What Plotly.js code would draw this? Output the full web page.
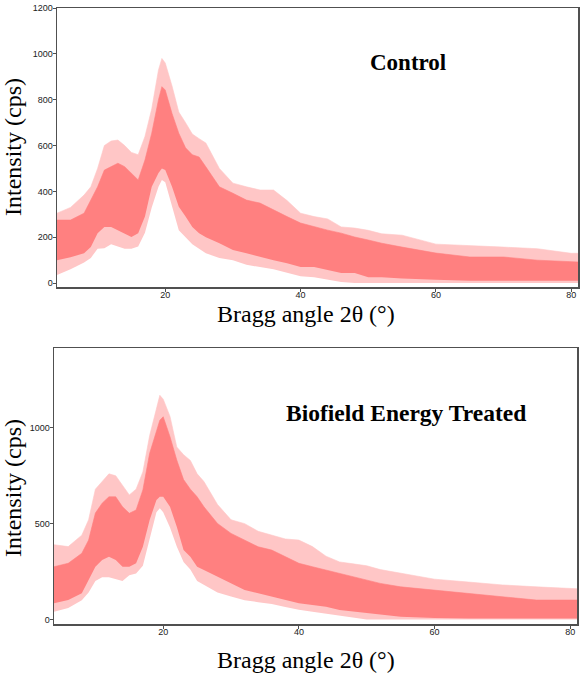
<!DOCTYPE html>
<html>
<head>
<meta charset="utf-8">
<script src="https://cdn.plot.ly/plotly-3.0.1.min.js"></script>
<style>html,body{margin:0;padding:0;background:#fff}#chart{width:583px;height:673px}</style>
</head>
<body>
<div id="chart"></div>
<script>
// ---- Control sample (2θ in degrees, intensity in cps) ----
const ctrlAngle = [4,6,8,9,10,11,12,13,14,15,16,17,18,19,19.5,20,21,22,23,24,25,26,28,30,32,34,36,38,40,42,44,46,48,50,52,55,60,65,70,75,80,81];
const ctrlCoreHi = [275,275,305,362,420,493,508,523,508,480,450,537,654,800,857,842,740,654,590,560,550,507,420,392,362,349,318,290,262,245,231,218,201,188,174,157,131,114,114,100,92,92];
const ctrlCoreLo = [100,113,130,157,218,245,245,231,218,201,218,290,420,480,500,493,420,333,290,245,218,200,174,144,130,114,100,87,70,70,57,44,44,26,26,20,15,10,10,10,10,10];
const ctrlSpikeHi = [305,330,384,420,500,600,620,624,600,570,560,640,760,930,980,960,860,746,700,650,630,611,500,436,420,406,406,360,305,290,280,245,240,230,215,209,170,165,157,150,130,130];
const ctrlSpikeLo = [35,60,90,110,150,152,170,160,150,150,160,220,330,420,450,440,340,231,200,170,150,130,110,100,80,70,60,45,30,25,15,5,0,0,0,0,0,0,0,0,0,0];

// ---- Biofield Energy Treated sample ----
const trtAngle = [3.9,6,8,9,10,11,12,13,14,15,16,17,18,19,19.5,20,21,22,23,24,25,26,28,30,32,34,36,38,40,42,44,46,48,50,52,55,60,65,70,75,80,81];
const trtCoreHi = [275,293,345,414,555,607,640,640,588,554,571,676,867,989,1040,1058,954,832,730,680,640,588,501,449,414,379,362,327,293,275,258,240,223,205,188,170,153,136,118,101,101,101];
const trtCoreLo = [84,101,136,205,275,310,327,310,275,275,293,379,519,623,640,640,588,484,362,327,275,258,223,188,153,136,118,101,84,75,66,49,40,31,25,14,7,5,5,5,5,5];
const trtSpikeHi = [390,380,440,520,680,720,760,750,700,650,680,770,960,1100,1170,1150,1060,900,860,830,760,720,600,520,500,460,440,420,414,380,330,300,290,280,260,240,210,195,180,170,160,160];
const trtSpikeLo = [40,60,100,140,200,220,220,210,200,230,240,280,420,560,580,560,480,380,300,260,200,180,140,120,100,90,80,65,50,40,30,20,10,0,0,0,0,0,0,0,0,0];

// tick labels
const ctrlYTicks = [0,200,400,600,800,1000,1200];
const trtYTicks = [0,500,1000];
const xTicks = [20,40,60,80];

const core = '#FF8080';
const spike = '#FFC6C6';

function band(x, lo, hi, color, xa, ya) {
  return [
    {x: x, y: lo, xaxis: xa, yaxis: ya, mode: 'lines', line: {width: 0, color: color}, hoverinfo: 'skip', showlegend: false},
    {x: x, y: hi, xaxis: xa, yaxis: ya, mode: 'lines', fill: 'tonexty', fillcolor: color, line: {width: 0.6, color: color}, hoverinfo: 'skip', showlegend: false}
  ];
}

const data = [].concat(
  band(ctrlAngle, ctrlSpikeLo, ctrlSpikeHi, spike, 'x', 'y'),
  band(ctrlAngle, ctrlCoreLo, ctrlCoreHi, core, 'x', 'y'),
  band(trtAngle, trtSpikeLo, trtSpikeHi, spike, 'x2', 'y2'),
  band(trtAngle, trtCoreLo, trtCoreHi, core, 'x2', 'y2')
);

const W = 583, H = 673;
const tickFont = {family: 'Liberation Sans, Arial, sans-serif', size: 9, color: '#222'};
function ax(extra) {
  return Object.assign({
    showline: true, mirror: true, linecolor: '#505050', linewidth: 1.5,
    showgrid: false, zeroline: false, ticks: 'outside', ticklen: 3, tickwidth: 1, tickcolor: '#505050',
    tickfont: tickFont, fixedrange: true
  }, extra);
}

const serif = 'Liberation Serif, Times New Roman, serif';
const layout = {
  width: W, height: H,
  margin: {l: 0, r: 0, t: 0, b: 0},
  paper_bgcolor: '#fff', plot_bgcolor: '#fff',
  showlegend: false,
  xaxis: ax({domain: [57/W, 578/W], range: [4, 81], anchor: 'y', tickvals: xTicks, ticklabelstandoff: -4}),
  yaxis: ax({domain: [1 - 287/H, 1 - 8/H], range: [-17, 1200], anchor: 'x', tickvals: ctrlYTicks, ticklabelstandoff: -2}),
  xaxis2: ax({domain: [54/W, 577/W], range: [3.9, 81], anchor: 'y2', tickvals: xTicks, ticklabelstandoff: -4}),
  yaxis2: ax({domain: [1 - 624/H, 1 - 348/H], range: [-24, 1417], anchor: 'x2', tickvals: trtYTicks, ticklabelstandoff: -2}),
  annotations: [
    {text: 'Intensity (cps)', xref: 'paper', yref: 'paper', x: 13/W, y: 1 - 147/H, textangle: -90, showarrow: false, xanchor: 'center', yanchor: 'middle', font: {family: serif, size: 24, color: '#000'}},
    {text: 'Intensity (cps)', xref: 'paper', yref: 'paper', x: 13/W, y: 1 - 488/H, textangle: -90, showarrow: false, xanchor: 'center', yanchor: 'middle', font: {family: serif, size: 24, color: '#000'}},
    {text: 'Bragg angle 2θ (°)', xref: 'paper', yref: 'paper', x: 306/W, y: 1 - 300/H, showarrow: false, xanchor: 'center', yanchor: 'top', borderpad: 0, font: {family: serif, size: 24, color: '#000'}},
    {text: 'Bragg angle 2θ (°)', xref: 'paper', yref: 'paper', x: 306/W, y: 1 - 646/H, showarrow: false, xanchor: 'center', yanchor: 'top', borderpad: 0, font: {family: serif, size: 24, color: '#000'}},
    {text: '<b>Control</b>', xref: 'paper', yref: 'paper', x: 408/W, y: 1 - 62/H, showarrow: false, xanchor: 'center', yanchor: 'middle', font: {family: serif, size: 23, color: '#000'}},
    {text: '<b>Biofield Energy Treated</b>', xref: 'paper', yref: 'paper', x: 406/W, y: 1 - 413/H, showarrow: false, xanchor: 'center', yanchor: 'middle', font: {family: serif, size: 23.5, color: '#000'}}
  ]
};

Plotly.newPlot('chart', data, layout, {staticPlot: true, displayModeBar: false});
</script>
</body>
</html>
